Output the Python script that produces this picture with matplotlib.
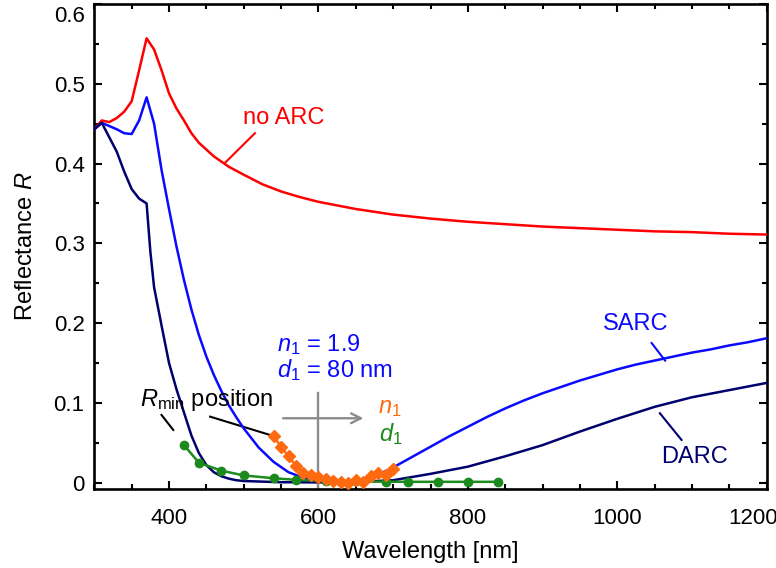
import matplotlib
matplotlib.use("Agg")
import matplotlib.pyplot as plt
from matplotlib.ticker import MultipleLocator
from matplotlib.transforms import ScaledTranslation

plt.rcParams['font.family'] = ['Liberation Sans', 'DejaVu Sans']
plt.rcParams['mathtext.fontset'] = 'custom'
plt.rcParams['mathtext.rm'] = 'Liberation Sans'
plt.rcParams['mathtext.it'] = 'Liberation Sans:italic'
plt.rcParams['lines.solid_joinstyle'] = 'round'

# ---- data ----
noarc_wl = [300, 310, 320, 330, 340, 350, 360, 370, 380, 390, 400, 410, 420, 430, 440,
            460, 480, 500, 525, 550, 575, 600, 650, 700, 750, 800, 850, 900, 950,
            1000, 1050, 1100, 1150, 1200]
noarc_R = [0.443, 0.454, 0.452, 0.457, 0.465, 0.478, 0.517, 0.557, 0.543, 0.517, 0.488,
           0.469, 0.454, 0.438, 0.426, 0.409, 0.396, 0.386, 0.374, 0.365, 0.358, 0.352,
           0.343, 0.336, 0.331, 0.327, 0.324, 0.321, 0.319, 0.317, 0.315, 0.314, 0.312, 0.311]

sarc_wl = [300, 310, 320, 330, 340, 350, 360, 370, 380, 390, 400, 410, 420, 430, 440, 450,
           460, 470, 480, 490, 500, 520, 540, 560, 580, 600, 620, 640, 660, 680, 700, 725,
           750, 775, 800, 825, 850, 875, 900, 925, 950, 975, 1000, 1025, 1050, 1075, 1100,
           1125, 1150, 1175, 1200]
sarc_R = [0.443, 0.451, 0.447, 0.443, 0.438, 0.437, 0.454, 0.483, 0.450, 0.392, 0.343,
          0.296, 0.254, 0.217, 0.185, 0.158, 0.135, 0.115, 0.097, 0.082, 0.068, 0.044,
          0.026, 0.013, 0.006, 0.002, 0.0005, 0.0008, 0.004, 0.010, 0.019, 0.032, 0.045,
          0.058, 0.070, 0.082, 0.093, 0.103, 0.112, 0.120, 0.128, 0.135, 0.142, 0.148,
          0.153, 0.158, 0.163, 0.167, 0.172, 0.176, 0.181]

darc_wl = [300, 310, 320, 330, 340, 350, 360, 370, 375, 380, 390, 400, 410, 420, 430, 440,
           450, 460, 470, 480, 490, 500, 550, 600, 650, 700, 750, 800, 850, 900, 950, 1000,
           1050, 1100, 1150, 1200]
darc_R = [0.443, 0.451, 0.433, 0.415, 0.390, 0.368, 0.356, 0.350, 0.290, 0.245, 0.197,
          0.150, 0.117, 0.088, 0.059, 0.037, 0.022, 0.013, 0.008, 0.005, 0.003, 0.002,
          0.0005, 0.0003, 0.0008, 0.003, 0.011, 0.020, 0.033, 0.047, 0.064, 0.080, 0.095,
          0.107, 0.116, 0.125]

n1_wl = [540, 550, 560, 570, 580, 590, 600, 610, 620, 630, 640, 650, 660, 670, 680, 690, 700]
n1_R = [0.058, 0.045, 0.033, 0.021, 0.012, 0.009, 0.007, 0.004, 0.002, 0.001, 0.000,
        0.003, 0.001, 0.008, 0.012, 0.009, 0.017]

d1_wl = [420, 440, 470, 500, 540, 570, 610, 650, 690, 720, 760, 800, 840]
d1_R = [0.047, 0.025, 0.015, 0.009, 0.0055, 0.0035, 0.002, 0.0015, 0.0012, 0.001, 0.001,
        0.001, 0.001]

xticks = [400, 600, 800, 1000, 1200]
yticks = [0, 0.1, 0.2, 0.3, 0.4, 0.5, 0.6]
ytick_labels = ['0', '0.1', '0.2', '0.3', '0.4', '0.5', '0.6']

RED = '#ff0000'
BLUE = '#0a0aff'
NAVY = '#00006e'
GREEN = '#1c8a1c'
ORANGE = '#ff6a10'
GRAY = '#8c8c8c'

fig = plt.figure(figsize=(7.76, 5.68), dpi=100)
ax = fig.add_axes([94.3 / 776, 1 - 489 / 568, (766.7 - 94.3) / 776, (489 - 4) / 568])

LW = 1.8
ax.plot(noarc_wl, noarc_R, color=RED, lw=LW, zorder=3)
ax.plot(sarc_wl, sarc_R, color=BLUE, lw=LW, zorder=3)
ax.plot(darc_wl, darc_R, color=NAVY, lw=LW, zorder=3)
ax.plot(d1_wl, d1_R, color=GREEN, lw=LW, marker='o', ms=6, zorder=4)
ax.plot(n1_wl, n1_R, color=ORANGE, lw=LW, marker='D', ms=6, zorder=5)

ax.set_xlim(300, 1200)
ax.set_ylim(-0.008, 0.6)
ax.set_xticks(xticks)
ax.set_yticks(yticks)
ax.set_yticklabels(ytick_labels)
ax.xaxis.set_minor_locator(MultipleLocator(50))
ax.yaxis.set_minor_locator(MultipleLocator(0.05))
ax.tick_params(which='both', direction='in', top=True, right=True, width=1.5,
               labelsize=16, colors='black')
ax.tick_params(axis='x', which='both', pad=14)
ax.tick_params(axis='y', which='both', pad=7)
ax.tick_params(which='major', length=6)
ax.tick_params(which='minor', length=3.5)
for s in ax.spines.values():
    s.set_linewidth(1.9)

lab = ax.get_xticklabels()[-1]
lab.set_transform(lab.get_transform() + ScaledTranslation(-0.14, 0, fig.dpi_scale_trans))
lab = ax.get_yticklabels()[-1]
lab.set_transform(lab.get_transform() + ScaledTranslation(0, -0.10, fig.dpi_scale_trans))

ax.set_xlabel('Wavelength [nm]', fontsize=17, labelpad=8)
ax.set_ylabel(r'Reflectance $R$', fontsize=17, labelpad=12)

# annotations
ax.text(554, 0.457, 'no ARC', color=RED, fontsize=17, ha='center', va='center')
ax.plot([515, 475], [0.438, 0.401], color=RED, lw=1.5)
ax.text(1025, 0.199, 'SARC', color=BLUE, fontsize=17, ha='center', va='center')
ax.plot([1046, 1064], [0.175, 0.153], color=BLUE, lw=1.5)
ax.text(1104, 0.032, 'DARC', color=NAVY, fontsize=17, ha='center', va='center')
ax.plot([1057, 1086], [0.087, 0.0535], color=NAVY, lw=1.5)

ax.text(544, 0.1725, r'$n_1$ = 1.9', color=BLUE, fontsize=17, ha='left', va='center')
ax.text(544, 0.141, r'$d_1$ = 80 nm', color=BLUE, fontsize=17, ha='left', va='center')

ax.text(361, 0.1036, r'$R_{\mathrm{min}}$ position', color='black', fontsize=17,
        ha='left', va='center')
ax.plot([390, 405.7], [0.0848, 0.066], color='black', lw=1.5)
ax.plot([455, 535], [0.0827, 0.0598], color='black', lw=1.5)

ax.plot([600, 600], [0.112, -0.008], color=GRAY, lw=1.7, zorder=2)
ax.annotate('', xy=(664, 0.0807), xytext=(549, 0.0807),
            arrowprops=dict(arrowstyle='->, head_length=0.7, head_width=0.35',
                            color=GRAY, lw=1.7), zorder=2)
ax.text(696, 0.094, r'$n_1$', color=ORANGE, fontsize=17, ha='center', va='center')
ax.text(697, 0.061, r'$d_1$', color=GREEN, fontsize=17, ha='center', va='center')

fig.savefig('out.png', dpi=100)
